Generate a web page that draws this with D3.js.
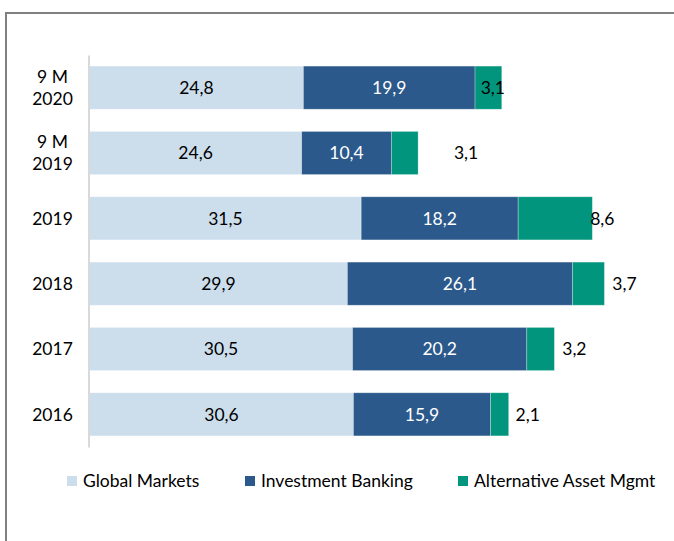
<!DOCTYPE html>
<html><head><meta charset="utf-8">
<script src="https://cdn.jsdelivr.net/npm/d3@7"></script>
<style>html,body{margin:0;padding:0;background:#fff;}svg{display:block;}</style>
</head><body>
<script>
const categories = ["9 M\n2020", "9 M\n2019", "2019", "2018", "2017", "2016"];
const globalMarkets = [24.8, 24.6, 31.5, 29.9, 30.5, 30.6];
const investmentBanking = [19.9, 10.4, 18.2, 26.1, 20.2, 15.9];
const altAssetMgmt = [3.1, 3.1, 8.6, 3.7, 3.2, 2.1];
const seriesNames = ["Global Markets", "Investment Banking", "Alternative Asset Mgmt"];
const colors = ["#CCDDEC", "#2C598B", "#00957C"];
const labelColors = ["#000", "#fff", "#000"];
// pixel offsets of the outside labels from the bar end (layout only)
const altLabelOffset = [-9, 48, 10, 20, 20, 19];

const W = 674, H = 541;
const font = "Lato, 'Open Sans', sans-serif";
const fs = 17.5;
const svg = d3.select("body").append("svg").attr("width", W).attr("height", H);

// frame
svg.append("rect").attr("x", 6).attr("y", 13).attr("width", W + 10).attr("height", H + 10)
  .attr("fill", "none").attr("stroke", "#808080").attr("stroke-width", 2);

const x = d3.scaleLinear().domain([0, 60]).range([89.5, 607]);
const y = d3.scaleBand().domain(categories).range([55, 447]).paddingInner(0.34).paddingOuter(0.17);

const series = [globalMarkets, investmentBanking, altAssetMgmt];
const rows = categories.map((c, i) => ({cat: c, v: series.map(s => s[i])}));
const stack = d3.stack().keys([0, 1, 2]).value((d, k) => d.v[k]);
const stacked = stack(rows);

stacked.forEach((layer, k) => {
  svg.append("g").selectAll("rect").data(layer).join("rect")
    .attr("x", d => x(d[0]))
    .attr("y", d => y(d.data.cat))
    .attr("width", d => x(d[1]) - x(d[0]))
    .attr("height", y.bandwidth())
    .attr("fill", colors[k])
    .attr("stroke", "rgba(255,255,255,0.35)")
    .attr("stroke-width", 0.8);
});

const fmt = v => v.toFixed(1).replace(".", ",");

// inside labels
[0, 1].forEach(k => {
  svg.append("g").selectAll("text").data(stacked[k]).join("text")
    .attr("x", d => (x(d[0]) + x(d[1])) / 2)
    .attr("y", d => y(d.data.cat) + y.bandwidth() / 2)
    .attr("dy", "0.36em")
    .attr("text-anchor", "middle")
    .attr("font-family", font).attr("font-size", fs)
    .attr("fill", labelColors[k])
    .text((d, i) => fmt(series[k][i]));
});
// outside labels
svg.append("g").selectAll("text").data(stacked[2]).join("text")
  .attr("x", (d, i) => x(d[1]) + altLabelOffset[i])
  .attr("y", d => y(d.data.cat) + y.bandwidth() / 2)
  .attr("dy", "0.36em")
  .attr("text-anchor", "middle")
  .attr("font-family", font).attr("font-size", fs)
  .attr("fill", labelColors[2])
  .text((d, i) => fmt(altAssetMgmt[i]));

// axis
const axis = svg.append("g").attr("transform", `translate(${x(0) - 1},0)`)
  .call(d3.axisLeft(y).tickSize(0).tickPadding(0));
axis.select(".domain").attr("stroke", "#D9D9D9").attr("stroke-width", 2);
axis.selectAll(".tick text").remove();
axis.selectAll(".tick").each(function(d) {
  const lines = d.split("\n");
  const t = d3.select(this).append("text")
    .attr("x", -36).attr("text-anchor", "middle")
    .attr("font-family", font).attr("font-size", fs).attr("fill", "#000");
  lines.forEach((ln, j) => {
    t.append("tspan").attr("x", -36)
      .attr("y", (j - (lines.length - 1) / 2) * 22)
      .attr("dy", "0.36em").text(ln);
  });
});

// legend
const legendX = [67, 245, 458];
const lg = svg.append("g").attr("transform", "translate(0,481)");
seriesNames.forEach((n, k) => {
  lg.append("rect").attr("x", legendX[k]).attr("y", -5).attr("width", 10).attr("height", 10).attr("fill", colors[k]);
  lg.append("text").attr("x", legendX[k] + 16).attr("y", 0).attr("dy", "0.36em")
    .attr("font-family", font).attr("font-size", fs).attr("fill", "#000").text(n);
});
</script>
</body></html>
